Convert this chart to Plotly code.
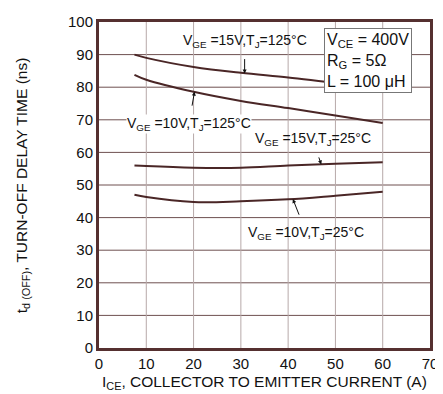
import plotly.graph_objects as go

# Data
x_15v_125 = [7.5, 10, 20, 30, 40, 50, 60]
y_15v_125 = [90, 89, 86.2, 84.4, 83, 81.3, 80]

x_10v_125 = [7.5, 10, 20, 30, 40, 50, 60]
y_10v_125 = [83.8, 82.3, 78.6, 75.8, 73.6, 71.3, 69]

x_15v_25 = [7.5, 10, 20, 30, 40, 50, 60]
y_15v_25 = [56, 55.8, 55.3, 55.3, 56, 56.5, 57]

x_10v_25 = [7.5, 10, 20, 30, 40, 50, 60]
y_10v_25 = [47, 46.3, 44.8, 45, 45.6, 46.7, 47.9]

x_ticks = [0, 10, 20, 30, 40, 50, 60, 70]
y_ticks = [0, 10, 20, 30, 40, 50, 60, 70, 80, 90, 100]

curve_color = "#4a2626"
frame_color = "#553030"
font = "Liberation Sans, Arial, sans-serif"

fig = go.Figure()
for xs, ys in [(x_15v_125, y_15v_125), (x_10v_125, y_10v_125),
               (x_15v_25, y_15v_25), (x_10v_25, y_10v_25)]:
    fig.add_trace(go.Scatter(x=xs, y=ys, mode="lines", line=dict(color=curve_color, width=2, shape="spline"),
                             showlegend=False, hoverinfo="skip"))

ann_font = dict(family=font, size=14, color="#111")

def label(text, ax, ay, x, y, bg="rgba(255,255,255,0)"):
    fig.add_annotation(x=x, y=y, ax=ax, ay=ay, axref="x", ayref="y", xref="x", yref="y",
                       text=text, showarrow=True, arrowhead=2, arrowsize=0.8, arrowwidth=1,
                       arrowcolor="#111", font=ann_font, bgcolor=bg, borderpad=0,
                       standoff=0, startstandoff=9)

label("V<sub>GE</sub> =15V,T<sub>J</sub>=125°C", 30.8, 94.3, 30.8, 84.2)
label("V<sub>GE</sub> =10V,T<sub>J</sub>=125°C", 19.0, 68.7, 20.2, 78.6, bg="white")
label("V<sub>GE</sub> =15V,T<sub>J</sub>=25°C", 45.2, 64.0, 47.0, 56.3)
label("V<sub>GE</sub> =10V,T<sub>J</sub>=25°C", 43.8, 35.4, 41.0, 45.7)

fig.add_annotation(x=47.5, y=98.2, xref="x", yref="y", xanchor="left", yanchor="top",
                   text="V<sub>CE</sub> = 400V<br>R<sub>G</sub> = 5Ω<br>L = 100 μH",
                   showarrow=False, align="left",
                   font=dict(family=font, size=16, color="#111"),
                   bgcolor="white", bordercolor="#777", borderwidth=1, borderpad=2)

grid_h = "#6e5050"
grid_v = "#b7a9a9"
for v in y_ticks[1:-1]:
    fig.add_shape(type="line", x0=0, x1=70, y0=v, y1=v, xref="x", yref="y",
                  line=dict(color=grid_h, width=1), layer="below")
for v in x_ticks[1:-1]:
    fig.add_shape(type="line", x0=v, x1=v, y0=0, y1=100, xref="x", yref="y",
                  line=dict(color=grid_v, width=1), layer="below")

# Axis titles as annotations for exact placement
fig.add_annotation(x=0.5, y=-0.105, xref="paper", yref="paper", xanchor="center", yanchor="middle",
                   text="I<sub>CE</sub>, COLLECTOR TO EMITTER CURRENT (A)", showarrow=False,
                   font=dict(family=font, size=15.5, color="#111"))
fig.add_annotation(x=-0.232, y=0.5, xref="paper", yref="paper", xanchor="center", yanchor="middle",
                   text="t<sub>d (OFF)</sub>, TURN-OFF DELAY TIME (ns)", showarrow=False, textangle=-90,
                   font=dict(family=font, size=15.5, color="#111"))

fig.update_xaxes(range=[0, 70], tickvals=x_ticks, showgrid=False, zeroline=False,
                 showline=True, mirror=True, linecolor=frame_color, linewidth=3,
                 ticks="", ticklabeloverflow="allow",
                 tickfont=dict(family=font, size=15, color="#111"))
fig.update_yaxes(range=[0, 100], tickvals=y_ticks, showgrid=False, zeroline=False,
                 showline=True, mirror=True, linecolor=frame_color, linewidth=3,
                 ticks="", ticklabeloverflow="allow",
                 tickfont=dict(family=font, size=15, color="#111"))

# The page body adds an 8px offset, so the figure is 8px smaller and margins compensate
fig.update_layout(width=435, height=386, margin=dict(l=91, r=8, t=5, b=46),
                  plot_bgcolor="white", paper_bgcolor="white", showlegend=False)

fig.write_html("out.html")
